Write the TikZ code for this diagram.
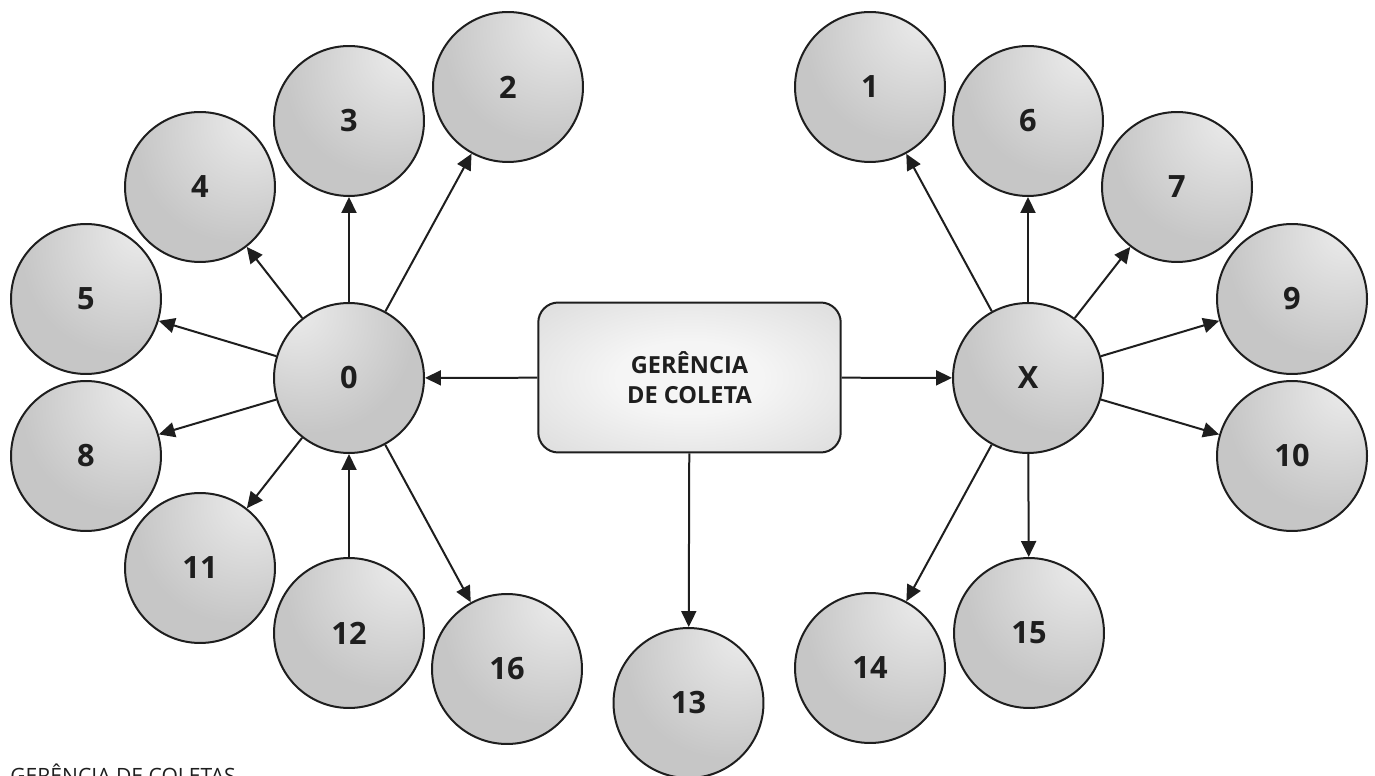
\documentclass[tikz,border=0pt]{standalone}
\usepackage{fontspec}
\setmainfont{Open Sans}
\usetikzlibrary{arrows.meta}

\definecolor{ink}{HTML}{1E1E1E}
\definecolor{ballbase}{HTML}{C6C6C6}
\definecolor{ballshine}{HTML}{EAEAEA}
\definecolor{boxedge}{HTML}{C9C9C9}
\definecolor{boxmid}{HTML}{F5F5F5}

\pgfdeclareradialshading{shineright}{\pgfpoint{20bp}{25bp}}{color(0bp)=(ballshine);
	color(3bp)=(ballshine); color(34bp)=(ballbase); color(90bp)=(ballbase)}
\pgfdeclareradialshading{shineleft}{\pgfpoint{-20bp}{25bp}}{color(0bp)=(ballshine);
	color(3bp)=(ballshine); color(34bp)=(ballbase); color(90bp)=(ballbase)}
\pgfdeclareradialshading{boxglow}{\pgfpoint{0bp}{0bp}}{color(0bp)=(boxmid);
	color(12bp)=(boxmid); color(55bp)=(boxedge); color(80bp)=(boxedge)}

\begin{document}
\begin{tikzpicture}[x=0.02cm, y=-0.02cm,
	ball/.style={circle, draw=ink, line width=0.04cm, minimum size=3.0cm,
		inner sep=0pt, shading=shineright, text=ink,
		font=\fontsize{17.5}{20}\selectfont\bfseries},
	hub/.style={rectangle, rounded corners=0.4cm, draw=ink, line width=0.04cm,
		minimum width=6.05cm, minimum height=3.0cm, shading=boxglow, text=ink,
		align=center, font=\fontsize{13.4}{17}\selectfont\bfseries},
	arr/.style={-{Triangle[length=0.32cm, width=0.3cm]}, draw=ink, line width=0.04cm}]

	\useasboundingbox (0,0) rectangle (1375,776);

	\node [hub] (gerencia) at (689.5,377.5) {GERÊNCIA\\DE COLETA};

	\node [ball, shading=shineleft] (zero) at (349,378) {0};
	\node [ball] (xis) at (1028,378) {X};

	% left group
	\node [ball] (n2) at (508,87) {2};
	\node [ball] (n3) at (349,121) {3};
	\node [ball] (n4) at (200,187) {4};
	\node [ball] (n5) at (86,299) {5};
	\node [ball] (n8) at (86,456) {8};
	\node [ball] (n11) at (200,568) {11};
	\node [ball] (n12) at (349,633) {12};
	\node [ball] (n16) at (507,669) {16};

	% bottom
	\node [ball] (n13) at (688.5,703) {13};

	% right group
	\node [ball] (n1) at (870,87) {1};
	\node [ball] (n6) at (1028,121) {6};
	\node [ball] (n7) at (1177,187) {7};
	\node [ball] (n9) at (1292,299) {9};
	\node [ball] (n10) at (1292,456) {10};
	\node [ball] (n14) at (870,668) {14};
	\node [ball] (n15) at (1029,633) {15};

	\draw [arr] (gerencia) -- (zero);
	\draw [arr] (gerencia) -- (xis);
	\draw [arr] (gerencia) -- (n13);

	\draw [arr] (zero) -- (n2);
	\draw [arr] (zero) -- (n3);
	\draw [arr] (zero) -- (n4);
	\draw [arr] (zero) -- (n5);
	\draw [arr] (zero) -- (n8);
	\draw [arr] (zero) -- (n11);
	\draw [arr] (n12) -- (zero);
	\draw [arr] (zero) -- (n16);

	\draw [arr] (xis) -- (n1);
	\draw [arr] (xis) -- (n6);
	\draw [arr] (xis) -- (n7);
	\draw [arr] (xis) -- (n9);
	\draw [arr] (xis) -- (n10);
	\draw [arr] (xis) -- (n14);
	\draw [arr] (xis) -- (n15);

	\node [anchor=base west, inner sep=0pt, text=ink,
	font=\fontsize{12}{14}\selectfont] (legenda) at (10,783) {GERÊNCIA DE COLETAS};

\end{tikzpicture}
\end{document}
